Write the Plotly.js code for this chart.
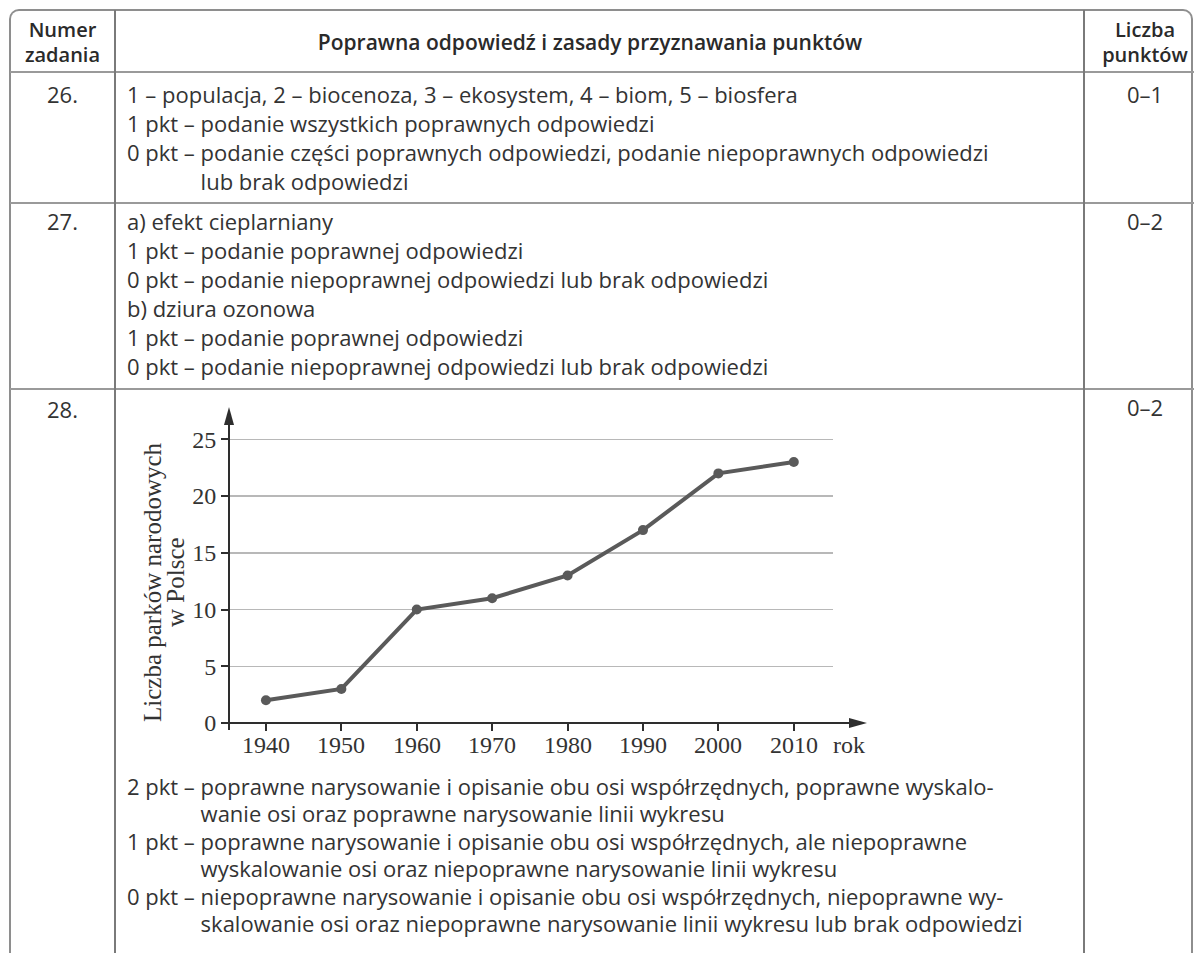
<!DOCTYPE html>
<html>
<head>
<meta charset="utf-8">
<script src="https://cdn.plot.ly/plotly-3.0.1.min.js"></script>
<style>
  html, body { margin:0; padding:0; background:#fff; overflow:hidden; }
  body { width:1197px; height:953px; position:relative; }
  .frame { position:absolute; left:9px; top:9px; width:1184px; height:1000px;
           border:2px solid #8e8e8e; border-bottom:none; border-radius:10px 10px 0 0; box-sizing:border-box; }
  .hl { position:absolute; left:10px; width:1184px; height:2px; background:#9a9a9a; }
  .vl { position:absolute; top:10px; width:2px; height:960px; background:#7a7a7a; }
  .txt { position:absolute; font-family:"Open Sans", Lato, sans-serif; font-size:22px; color:#333;
         white-space:nowrap; line-height:29px; }
  .hdr { font-weight:600; font-size:20px; color:#2a2a2a; line-height:25px; text-align:center; }
  .it { display:flex; }
  .lb { white-space:pre; }
  #chart { position:absolute; left:115px; top:389px; width:969px; height:400px; }
</style>
</head>
<body>
<div class="frame"></div>
<div class="hl" style="top:71px"></div>
<div class="hl" style="top:202px"></div>
<div class="hl" style="top:388px"></div>
<div class="vl" style="left:114px"></div>
<div class="vl" style="left:1083px"></div>

<div class="txt hdr" style="left:10px; width:105px; top:17px;">Numer<br>zadania</div>
<div class="txt hdr" style="left:140px; width:900px; top:30px; font-size:21px;">Poprawna odpowiedź i zasady przyznawania punktów</div>
<div class="txt hdr" style="left:1085px; width:120px; top:17px;">Liczba<br>punktów</div>

<div class="txt" style="left:10px; width:105px; top:80px; text-align:center;">26.</div>
<div class="txt" style="left:127px; top:80px;">
  <div>1 – populacja, 2 – biocenoza, 3 – ekosystem, 4 – biom, 5 – biosfera</div>
  <div class="it"><span class="lb">1 pkt – </span><span>podanie wszystkich poprawnych odpowiedzi</span></div>
  <div class="it"><span class="lb">0 pkt – </span><span>podanie części poprawnych odpowiedzi, podanie niepoprawnych odpowiedzi<br>lub brak odpowiedzi</span></div>
</div>
<div class="txt" style="left:1085px; width:120px; top:80px; text-align:center;">0–1</div>

<div class="txt" style="left:10px; width:105px; top:207px; text-align:center;">27.</div>
<div class="txt" style="left:127px; top:207px;">
  <div>a) efekt cieplarniany</div>
  <div class="it"><span class="lb">1 pkt – </span><span>podanie poprawnej odpowiedzi</span></div>
  <div class="it"><span class="lb">0 pkt – </span><span>podanie niepoprawnej odpowiedzi lub brak odpowiedzi</span></div>
  <div>b) dziura ozonowa</div>
  <div class="it"><span class="lb">1 pkt – </span><span>podanie poprawnej odpowiedzi</span></div>
  <div class="it"><span class="lb">0 pkt – </span><span>podanie niepoprawnej odpowiedzi lub brak odpowiedzi</span></div>
</div>
<div class="txt" style="left:1085px; width:120px; top:207px; text-align:center;">0–2</div>

<div class="txt" style="left:10px; width:105px; top:395px; text-align:center;">28.</div>
<div class="txt" style="left:1085px; width:120px; top:393px; text-align:center;">0–2</div>

<div id="chart"></div>

<div class="txt" style="left:127px; top:773px; line-height:27.4px;">
  <div class="it"><span class="lb">2 pkt – </span><span>poprawne narysowanie i opisanie obu osi współrzędnych, poprawne wyskalo-<br>wanie osi oraz poprawne narysowanie linii wykresu</span></div>
  <div class="it"><span class="lb">1 pkt – </span><span>poprawne narysowanie i opisanie obu osi współrzędnych, ale niepoprawne<br>wyskalowanie osi oraz niepoprawne narysowanie linii wykresu</span></div>
  <div class="it"><span class="lb">0 pkt – </span><span>niepoprawne narysowanie i opisanie obu osi współrzędnych, niepoprawne wy-<br>skalowanie osi oraz niepoprawne narysowanie linii wykresu lub brak odpowiedzi</span></div>
</div>

<script>
// ---- data ----
const years = [1940, 1950, 1960, 1970, 1980, 1990, 2000, 2010];
const parks = [2, 3, 10, 11, 13, 17, 22, 23];
const yTickVals = [0, 5, 10, 15, 20, 25];
const yTitleLine1 = "Liczba parków narodowych";
const yTitleLine2 = "w Polsce";
const xUnit = "rok";

// ---- geometry (pixels inside the chart div) ----
const M = {l:114, r:251, t:39, b:66};
const W = 969, H = 400;
const pw = W - M.l - M.r, ph = H - M.t - M.b;
const px = x => (x - M.l) / pw;          // div pixel -> paper x
const py = y => (H - M.b - y) / ph;      // div pixel -> paper y
const ox = M.l, oy = H - M.b;            // origin in div pixels

const axisColor = '#2e2e2e';
const serif = 'Liberation Serif, "Times New Roman", serif';
const tickFont = {family:serif, size:24, color:'#333'};

const shapes = [
  {type:'line', xref:'paper', yref:'paper', x0:px(ox-2), x1:px(ox+630), y0:py(oy), y1:py(oy),
   line:{color:axisColor, width:2}},
  {type:'path', xref:'paper', yref:'paper', fillcolor:axisColor, line:{width:0},
   path:`M${px(ox+638)},${py(oy)} L${px(ox+620)},${py(oy-5)} L${px(ox+620)},${py(oy+5)} Z`},
  {type:'line', xref:'paper', yref:'paper', x0:px(ox), x1:px(ox), y0:py(oy+7), y1:py(oy-305),
   line:{color:axisColor, width:2}},
  {type:'path', xref:'paper', yref:'paper', fillcolor:axisColor, line:{width:0},
   path:`M${px(ox)},${py(oy-316)} L${px(ox-5)},${py(oy-298)} L${px(ox+5)},${py(oy-298)} Z`}
];

const annotations = [
  {xref:'paper', yref:'paper', x:px(ox-77), y:py(oy-141), text:yTitleLine1, textangle:-90,
   showarrow:false, xanchor:'center', yanchor:'middle', font:{family:serif, size:25, color:'#333'}},
  {xref:'paper', yref:'paper', x:px(ox-54), y:py(oy-141), text:yTitleLine2, textangle:-90,
   showarrow:false, xanchor:'center', yanchor:'middle', font:{family:serif, size:25, color:'#333'}},
  {xref:'paper', yref:'paper', x:px(ox+638), y:py(oy+22), text:xUnit,
   showarrow:false, xanchor:'right', yanchor:'middle', font:tickFont}
].concat(years.map(yr => ({
  xref:'x', yref:'paper', x:yr, y:py(oy+22), text:String(yr),
  showarrow:false, xanchor:'center', yanchor:'middle', font:tickFont
})));

const trace = {
  x: years, y: parks, type:'scatter', mode:'lines+markers',
  line:{color:'#5a5a5a', width:4},
  marker:{color:'#5a5a5a', size:10},
  cliponaxis:false, hoverinfo:'skip'
};

const layout = {
  width:W, height:H,
  margin:M,
  paper_bgcolor:'rgba(0,0,0,0)', plot_bgcolor:'rgba(0,0,0,0)',
  showlegend:false,
  xaxis:{range:[1935.1, 2015.2], tickvals:years, showticklabels:false,
         ticks:'outside', ticklen:7, tickwidth:2, tickcolor:axisColor,
         showgrid:false, zeroline:false, showline:false},
  yaxis:{range:[0, 26], tickvals:yTickVals, ticktext:yTickVals.map(String),
         ticks:'outside', ticklen:7, tickwidth:2, tickcolor:axisColor,
         showgrid:true, gridcolor:'#b8b8b8', gridwidth:1.5,
         zeroline:false, showline:false, tickfont:tickFont},
  shapes:shapes,
  annotations:annotations
};

Plotly.newPlot('chart', [trace], layout, {displayModeBar:false, staticPlot:true});
</script>
</body>
</html>
